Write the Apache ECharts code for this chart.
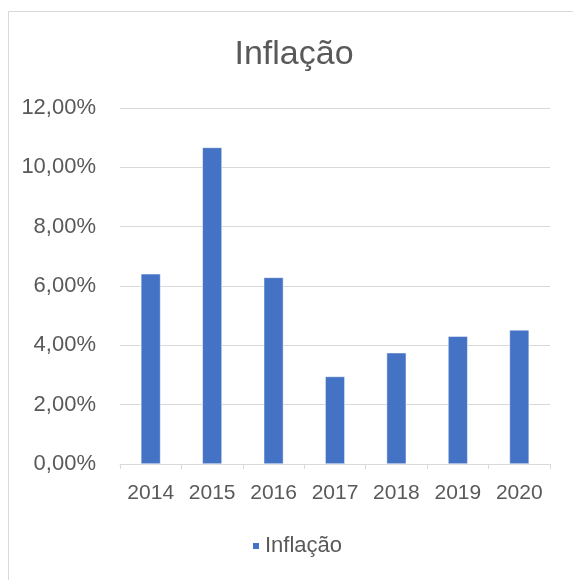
<!DOCTYPE html>
<html>
<head>
<meta charset="utf-8">
<script src="https://cdn.jsdelivr.net/npm/echarts@6/dist/echarts.min.js"></script>
<style>
html,body{margin:0;padding:0;background:#fff;}
#chart{width:573px;height:580px;}
</style>
</head>
<body>
<div id="chart"></div>
<script>
const title = 'Inflação';
const categories = ['2014', '2015', '2016', '2017', '2018', '2019', '2020'];
const inflacao = [6.41, 10.67, 6.29, 2.95, 3.75, 4.31, 4.52];
const yTicks = [0, 2, 4, 6, 8, 10, 12];

const FONT = '"Liberation Sans", Arial, sans-serif';
const chart = echarts.init(document.getElementById('chart'), null, {renderer: 'canvas'});
chart.setOption({
  animation: false,
  backgroundColor: '#fff',
  graphic: [{
    type: 'rect', left: 6, top: 9, z: -1,
    shape: {width: 700, height: 700},
    style: {fill: 'none', stroke: '#d9d9d9', lineWidth: 1}
  }],
  title: {
    text: title, left: 289, top: 33, textAlign: 'center',
    textStyle: {fontFamily: FONT, fontSize: 34, fontWeight: 'normal', color: '#595959'}
  },
  legend: {
    data: [title], bottom: 18, left: 246,
    icon: 'rect', itemWidth: 8, itemHeight: 8, itemGap: 8,
    textStyle: {fontFamily: FONT, fontSize: 22, color: '#595959'}
  },
  grid: {left: 120, right: 23, top: 108, bottom: 116},
  xAxis: {
    type: 'category', data: categories, boundaryGap: true,
    axisLine: {lineStyle: {color: '#d9d9d9', width: 1}},
    axisTick: {show: true, length: 5, lineStyle: {color: '#d9d9d9'}},
    axisLabel: {fontFamily: FONT, fontSize: 21, color: '#595959', margin: 19}
  },
  yAxis: {
    type: 'value', min: yTicks[0], max: yTicks[yTicks.length - 1], interval: 2,
    axisLine: {show: false}, axisTick: {show: false},
    splitLine: {lineStyle: {color: '#d9d9d9', width: 1}},
    axisLabel: {
      fontFamily: FONT, fontSize: 22, color: '#595959', margin: 24,
      formatter: v => v.toFixed(2).replace('.', ',') + '%'
    }
  },
  series: [{
    name: title, type: 'bar', data: inflacao, barWidth: '32%',
    itemStyle: {color: '#4472C4', borderColor: '#ffffff', borderWidth: 0.5}
  }]
});
</script>
</body>
</html>
